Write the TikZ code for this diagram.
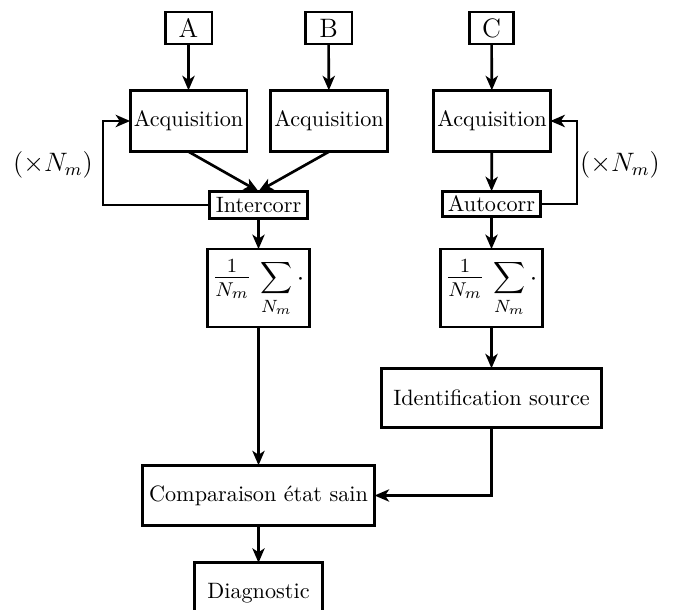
\documentclass[tikz,border=0pt]{standalone}
\usetikzlibrary{arrows.meta,calc}
\newcommand{\myfrac}{\mbox{\fontsize{13.5}{16}\selectfont$\frac{1}{N_m}$}}
\begin{document}
\begin{tikzpicture}[x=0.45pt,y=-0.45pt,
  blk/.style={draw,line width=1.2pt,inner sep=0pt,outer sep=0pt,align=center,font=\fontsize{10}{12}\selectfont},
  big/.style={font=\fontsize{12}{14}\selectfont},
  arr/.style={line width=1.2pt,-{Stealth[length=6.5pt,width=5.5pt,inset=1.8pt]}},
  lbl/.style={inner sep=0pt,font=\fontsize{12}{14}\selectfont}]
\useasboundingbox (0,0) rectangle (677,610);
\begin{scope}
\clip (0,0) rectangle (677,610);
\node[blk,big,minimum width=21pt,minimum height=14.5pt] (A) at (188.5,28) {A};
\node[blk,big,minimum width=21pt,minimum height=14.5pt] (B) at (328.5,28) {B};
\node[blk,big,minimum width=20pt,minimum height=14.5pt] (C) at (491.5,28) {C};
\node[blk,minimum width=52.5pt,minimum height=27.6pt] (Q1) at (188.5,121) {Acquisition};
\node[blk,minimum width=52.5pt,minimum height=27.6pt] (Q2) at (329,121) {Acquisition};
\node[blk,minimum width=52.5pt,minimum height=27.6pt] (Q3) at (492,121) {Acquisition};
\node[blk,minimum width=44.3pt,minimum height=12.3pt] (IC) at (258.5,205) {Intercorr};
\node[blk,minimum width=44.3pt,minimum height=11.5pt] (AC) at (491.5,204) {Autocorr};
\node[blk,big,minimum width=46pt,minimum height=35pt] (S1) at (258.5,288) {$\myfrac\,\displaystyle\sum_{N_m}\cdot$};
\node[blk,big,minimum width=46pt,minimum height=35pt] (S2) at (491.5,288) {$\myfrac\,\displaystyle\sum_{N_m}\cdot$};
\node[blk,minimum width=99pt,minimum height=26.7pt] (ID) at (491.5,398) {Identification source};
\node[blk,minimum width=104.5pt,minimum height=27.2pt] (CP) at (258.5,495.5) {Comparaison état sain};
\node[blk,minimum width=57.8pt,minimum height=27.2pt] (DG) at (258.5,593) {Diagnostic};
\node[lbl] (L1) at (53,165) {$(\times N_m)$};
\node[lbl] (L2) at (620,165) {$(\times N_m)$};
\coordinate (F1) at (103,205);
\coordinate (F2) at (577,204);
\draw[arr] (A) -- (Q1);
\draw[arr] (B) -- (Q2);
\draw[arr] (C) -- (Q3);
\draw[arr] (Q1.south) -- (IC.north);
\draw[arr] (Q2.south) -- (IC.north);
\draw[arr] (IC.west) -- (F1) |- (Q1.west);
\draw[arr] (IC) -- (S1);
\draw[arr] (S1) -- (CP);
\draw[arr] (Q3) -- (AC);
\draw[arr] (AC.east) -- (F2) |- (Q3.east);
\draw[arr] (AC) -- (S2);
\draw[arr] (S2) -- (ID);
\draw[arr] (ID.south) |- (CP.east);
\draw[arr] (CP) -- (DG);
\end{scope}
\end{tikzpicture}
\end{document}
